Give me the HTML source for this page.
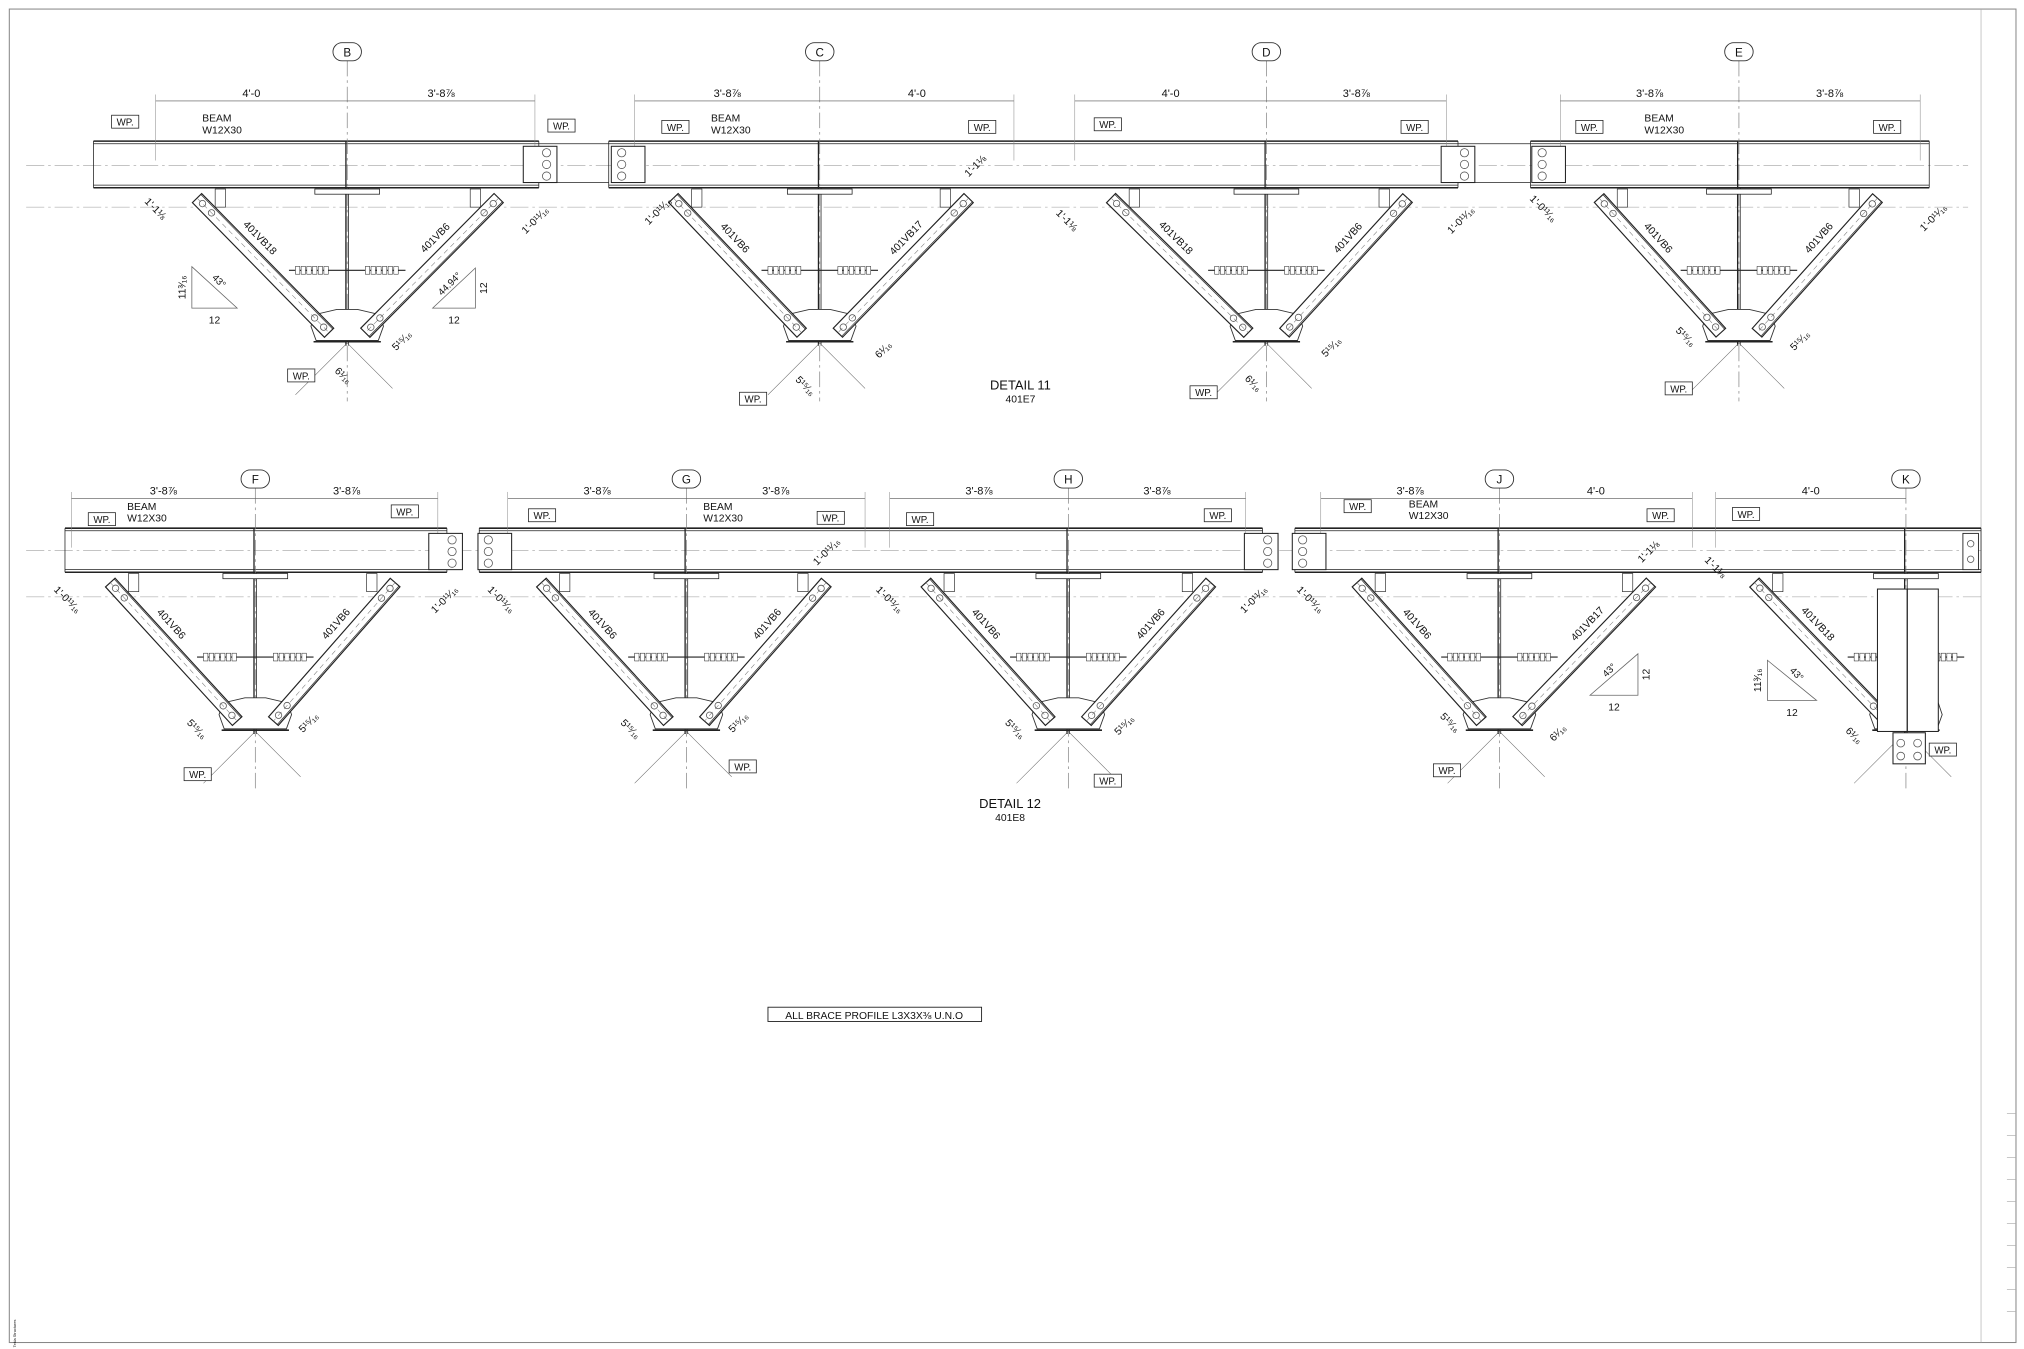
<!DOCTYPE html>
<html><head><meta charset="utf-8"><style>
html,body{margin:0;padding:0;background:#fff;}
svg{display:block;}
text{font-family:"Liberation Sans",sans-serif;fill:#111;}
</style></head><body>
<svg id="s" width="2024" height="1349" viewBox="0 0 1563 1042" xmlns="http://www.w3.org/2000/svg"></svg>
<script>
const S=document.getElementById('s');let h='';
const L=(x1,y1,x2,y2,w,c,d)=>{h+=`<line x1="${x1}" y1="${y1}" x2="${x2}" y2="${y2}" stroke="${c||'#222'}" stroke-width="${w||0.8}" ${d?`stroke-dasharray="${d}"`:''}/>`;};
const R=(x,y,w,hh,sw)=>{h+=`<rect x="${x}" y="${y}" width="${w}" height="${hh}" fill="#fff" stroke="#222" stroke-width="${sw||0.8}"/>`;};
const T=(x,y,t,sz,rot,anc)=>{h+=`<text x="${x}" y="${y}" font-size="${sz||8}" text-anchor="${anc||'middle'}" ${rot!=null?`transform="rotate(${rot} ${x} ${y})"`:''}>${t}</text>`;};
const C=(x,y,r)=>{h+=`<circle cx="${x}" cy="${y}" r="${r}" fill="none" stroke="#555" stroke-width="0.6"/>`;};
const WP=(x,y)=>{R(x,y-8,21,10,0.6);T(x+10.5,y,'WP.',7.5);};
h+=`<rect x="7" y="7" width="1550" height="1030" fill="none" stroke="#888" stroke-width="0.8"/>`;
L(1530,7,1530,1037,0.5,'#aaa');
for(let y=860;y<1030;y+=17)L(1550,y,1557,y,0.5,'#aaa');
T(12,1030,'Tekla Structures',3,-90);
function beam(x1,x2,yt,yb){L(x1,yt,x2,yt,1.2);L(x1,yt+2,x2,yt+2,0.6);L(x1,yb,x2,yb,1.2);L(x1,yb-2,x2,yb-2,0.5);L(x1,yt,x1,yb,0.6);L(x2,yt,x2,yb,0.6);}
function plate(x,y,bolts){R(x,y,26,28);for(let i=0;i<3;i++)C(x+(bolts?18:8),y+5+i*9,3.2);}
function brace(x1,y1,x2,y2,lab,side){
 const dx=x2-x1,dy=y2-y1,l=Math.hypot(dx,dy),nx=-dy/l*5,ny=dx/l*5;
 h+=`<polygon points="${x1+nx},${y1+ny} ${x2+nx},${y2+ny} ${x2-nx},${y2-ny} ${x1-nx},${y1-ny}" fill="#fff" stroke="#222" stroke-width="0.9"/>`;
 L(x1-nx*0.8,y1-ny*0.8,x2-nx*0.8,y2-ny*0.8,0.5);
 L(x1,y1,x2,y2,0.4,'#777','4 3');
 C(x1+dx/l*6,y1+dy/l*6,2.5);C(x1+dx/l*16,y1+dy/l*16,2.5);
 C(x2-dx/l*6,y2-dy/l*6,2.5);C(x2-dx/l*16,y2-dy/l*16,2.5);
 const a=Math.atan2(dy,dx)*180/Math.PI;let ang=a>90?a-180:(a<-90?a+180:a);
 const mx=x1+dx*0.38,my=y1+dy*0.38;
 T(mx-side*8,my-7,lab,8,ang);
}
function frame(cx,yt,yb,ya,lx,rx,ll,rl,bub,bubY,dimY,dl,dr){
 L(cx,bubY+7,cx,ya+55,0.5,'#777','12 3 2 3');
 h+=`<rect x="${cx-11}" y="${bubY-7}" width="22" height="14" rx="7" fill="#fff" stroke="#333" stroke-width="0.7"/>`;T(cx,bubY+3.5,bub,9);
 if(dl){L(dl[0],dimY,cx,dimY,0.5,'#555');L(dl[0],dimY-5,dl[0],yt+15,0.4,'#888');T((dl[0]+cx)/2,dimY-3,dl[1],8.5);}
 if(dr){L(cx,dimY,dr[0],dimY,0.5,'#555');L(dr[0],dimY-5,dr[0],yt+15,0.4,'#888');T((dr[0]+cx)/2,dimY-3,dr[1],8.5);}
 L(cx-1,yt,cx-1,ya+12,1);L(cx+1,yb,cx+1,ya+12,0.6);
 R(cx-25,yb+1,50,4,0.6);
 const sy=yb+(ya-yb)*0.58;L(cx-45,sy,cx+45,sy,0.9);
 for(let k of[-1,1]){for(let i=0;i<6;i++)R(cx+k*27-13+i*4.4,sy-3,3.4,6,0.4);}
 h+=`<polygon points="${cx-25},${ya-12} ${cx-28},${ya-3} ${cx-24},${ya+8} ${cx+24},${ya+8} ${cx+28},${ya-3} ${cx+25},${ya-12} ${cx+8},${ya-16} ${cx-8},${ya-16}" fill="#fff" stroke="#333" stroke-width="0.7"/>`;
 L(cx-26,ya+9,cx+26,ya+9,1.2);
 if(lx!=null){R(lx+14,yb+1,8,14,0.5);brace(lx,yb+8,cx-14,ya+2,ll,-1);}
 if(rx!=null){R(rx-22,yb+1,8,14,0.5);brace(rx,yb+8,cx+14,ya+2,rl,1);}
 L(cx,ya+10,cx-40,ya+50,0.4,'#666');L(cx,ya+10,cx+35,ya+45,0.4,'#666');
}
function tri(x,y,w,hgt,left,ang,v){
 if(left){h+=`<polygon points="${x},${y} ${x},${y+hgt} ${x+w},${y+hgt}" fill="none" stroke="#666" stroke-width="0.6"/>`;T(x-5,y+hgt/2,v,8,-90);T(x+w*0.55,y+hgt*0.4,ang,7.5,45);}
 else{h+=`<polygon points="${x+w},${y} ${x+w},${y+hgt} ${x},${y+hgt}" fill="none" stroke="#666" stroke-width="0.6"/>`;T(x+w+9,y+hgt/2,'12',8,-90);T(x+w*0.45,y+hgt*0.45,ang,7.5,-45);}
 T(x+w/2,y+hgt+12,'12',8);
}
L(20,128,1520,128,0.4,'#888','14 3 2 3');L(20,160,1520,160,0.4,'#999','14 3 2 3');
beam(72,416,109,145);beam(470,1126,109,145);beam(1182,1490,109,145);
L(416,111,470,111,0.6);L(416,141,470,141,0.6);L(1126,111,1182,111,0.6);L(1126,141,1182,141,0.6);
const f8='3\'-8⅞',f4='4\'-0';
frame(268,109,145,255,152,385,'401VB18','401VB6','B',40,78,[120,f4],[413,f8]);
frame(633,109,145,255,520,748,'401VB6','401VB17','C',40,78,[490,f8],[783,f4]);
frame(978,109,145,255,858,1087,'401VB18','401VB6','D',40,78,[830,f4],[1117,f8]);
frame(1343,109,145,255,1235,1450,'401VB6','401VB6','E',40,78,[1205,f8],[1483,f8]);
plate(404,113,1);plate(472,113,0);plate(1113,113,1);plate(1183,113,0);
[[86,97],[423,100],[511,101],[748,101],[845,99],[1082,101],[1217,101],[1447,101],[222,293],[571,311],[919,306],[1286,303]].forEach(p=>WP(p[0],p[1]));
[[156,96],[549,96],[1270,96]].forEach(p=>{T(p[0],p[1]-2,'BEAM',8,null,'start');T(p[0],p[1]+7,'W12X30',8,null,'start');});
tri(148,206,35,32,1,'43°','11³⁄₁₆');tri(334,207,33,31,0,'44.94°');
[[118,163,'1\'-1⅛',45],[415,172,'1\'-0¹¹⁄₁₆',-45],[510,165,'1\'-0¹¹⁄₁₆',-45],[755,130,'1\'-1⅛',-45],[822,172,'1\'-1⅛',45],[1130,172,'1\'-0¹¹⁄₁₆',-45],[1190,163,'1\'-0¹¹⁄₁₆',45],[1495,170,'1\'-0¹¹⁄₁₆',-45],
[263,292,'6¹⁄₁₆',45],[312,265,'5¹⁵⁄₁₆',-45],[620,300,'5¹⁵⁄₁₆',45],[684,272,'6¹⁄₁₆',-45],[966,298,'6¹⁄₁₆',45],[1030,270,'5¹⁵⁄₁₆',-45],[1300,262,'5¹⁵⁄₁₆',45],[1392,265,'5¹⁵⁄₁₆',-45]].forEach(d=>T(d[0],d[1],d[2],8,d[3]));
T(788,301,'DETAIL 11',10);T(788,311,'401E7',8);
L(20,425,1530,425,0.4,'#888','14 3 2 3');L(20,461,1530,461,0.4,'#999','14 3 2 3');
beam(50,345,408,442);beam(370,975,408,442);beam(1000,1530,408,442);
frame(197,408,442,555,85,305,'401VB6','401VB6','F',370,385,[55,f8],[338,f8]);
frame(530,408,442,555,418,638,'401VB6','401VB6','G',370,385,[392,f8],[668,f8]);
frame(825,408,442,555,715,935,'401VB6','401VB6','H',370,385,[687,f8],[962,f8]);
frame(1158,408,442,555,1048,1275,'401VB6','401VB17','J',370,385,[1020,f8],[1307,f4]);
frame(1472,408,442,555,1355,null,'401VB18','','K',370,385,[1325,f4],null);
R(1450,455,47,110,0.8);L(1473,455,1473,565,1);R(1462,566,25,24,0.8);C(1468,574,3);C(1481,574,3);C(1468,584,3);C(1481,584,3);
R(1516,412,12,28,0.7);C(1522,420,2.5);C(1522,432,2.5);
plate(331,412,1);plate(369,412,0);plate(961,412,1);plate(998,412,0);
[[68,404],[302,398],[408,401],[631,403],[700,404],[930,401],[1038,394],[1272,401],[1338,400],[142,601],[563,595],[845,606],[1107,598],[1490,582]].forEach(p=>WP(p[0],p[1]));
[[98,396],[543,396],[1088,394]].forEach(p=>{T(p[0],p[1]-2,'BEAM',8,null,'start');T(p[0],p[1]+7,'W12X30',8,null,'start');});
tri(1228,505,37,32,0,'43°');
tri(1365,510,38,31,1,'43°','11³⁄₁₆');
[[50,465,'1\'-0¹¹⁄₁₆',45],[345,465,'1\'-0¹¹⁄₁₆',-45],[385,465,'1\'-0¹¹⁄₁₆',45],[640,428,'1\'-0¹¹⁄₁₆',-45],[685,465,'1\'-0¹¹⁄₁₆',45],[970,465,'1\'-0¹¹⁄₁₆',-45],[1010,465,'1\'-0¹¹⁄₁₆',45],[1275,428,'1\'-1⅛',-45],[1323,440,'1\'-1⅛',45],
[150,565,'5¹⁵⁄₁₆',45],[240,560,'5¹⁵⁄₁₆',-45],[485,565,'5¹⁵⁄₁₆',45],[572,560,'5¹⁵⁄₁₆',-45],[782,565,'5¹⁵⁄₁₆',45],[870,562,'5¹⁵⁄₁₆',-45],[1118,560,'5¹⁵⁄₁₆',45],[1205,568,'6¹⁄₁₆',-45],[1430,570,'6¹⁄₁₆',45]].forEach(d=>T(d[0],d[1],d[2],8,d[3]));
T(780,624,'DETAIL 12',10);T(780,634,'401E8',8);
R(593,778,165,11,0.7);T(675,787,'ALL BRACE PROFILE L3X3X⅜ U.N.O',8);
S.innerHTML=h;
</script>
</body></html>
